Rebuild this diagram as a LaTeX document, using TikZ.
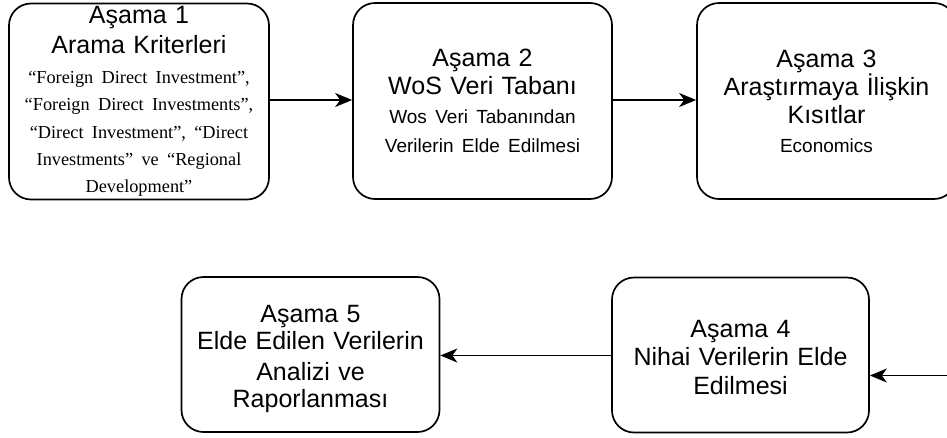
\documentclass[tikz,border=0pt]{standalone}
\usepackage{fontspec}
\setmainfont{Liberation Sans}
\newfontfamily\serifqt{Liberation Serif}
\usetikzlibrary{arrows.meta}
\tikzset{
  stage/.style={draw=black, line width=1.7pt, rounded corners=22pt, fill=white,
    inner sep=0pt, align=center, minimum height=155pt},
  conn/.style={line width=1.8pt, -{Stealth[length=17pt,width=14pt,inset=5pt]}},
}
\begin{document}
\begin{tikzpicture}[x=1pt,y=-1pt]
\useasboundingbox (0,0) rectangle (947,437);
\clip (0,0) rectangle (947,437);
\node[stage, font=\fontsize{25}{30}\selectfont, minimum width=260pt, minimum height=196pt, text width=256pt] (s1) at (139,101.5)
  {\centering Aşama 1\\ Arama Kriterleri\par\vspace{2.7pt}
   \serifqt\fontsize{18.3}{27.3}\selectfont “Foreign Direct Investment”,\\
   “Foreign Direct Investments”,\\
   “Direct Investment”, “Direct\\
   Investments” ve “Regional\\
   Development”\par};
\node[stage, font=\fontsize{25}{27.5}\selectfont, minimum width=259pt, minimum height=196pt, text width=255pt] (s2) at (482.5,101)
  {\centering Aşama 2\\ WoS Veri Tabanı\par
   \fontsize{19}{29}\selectfont Wos Veri Tabanından\\ Verilerin Elde Edilmesi\par};
\node[stage, font=\fontsize{25}{28}\selectfont, minimum width=259pt, minimum height=196pt, text width=255pt] (s3) at (826.5,101)
  {\centering Aşama 3\\ Araştırmaya İlişkin\\ Kısıtlar\par
   \fontsize{19}{29}\selectfont Economics\par};
\node[stage, font=\fontsize{25}{28.5}\selectfont, minimum width=257pt, text width=253pt] (s4) at (740.5,355)
  {\centering\rule{0pt}{22pt}Aşama 4\\ Nihai Verilerin Elde\\ Edilmesi\par};
\node[stage, font=\fontsize{25}{26.5}\selectfont, minimum width=258pt, text width=254pt] (s5) at (310.5,354.5)
  {\centering\rule{0pt}{26pt}Aşama 5\\ Elde Edilen Verilerin\\[5pt] Analizi ve\\ Raporlanması\par};
\coordinate (in4) at (950,375.5);
\draw[conn] (s1.east |- 0,100) -- (s2.west |- 0,100);
\draw[conn] (s2.east |- 0,100) -- (s3.west |- 0,100);
\draw[conn] (in4) -- (s4.east |- in4);
\draw[conn] (s4.west |- 0,355.5) -- (s5.east |- 0,355.5);
\end{tikzpicture}
\end{document}
